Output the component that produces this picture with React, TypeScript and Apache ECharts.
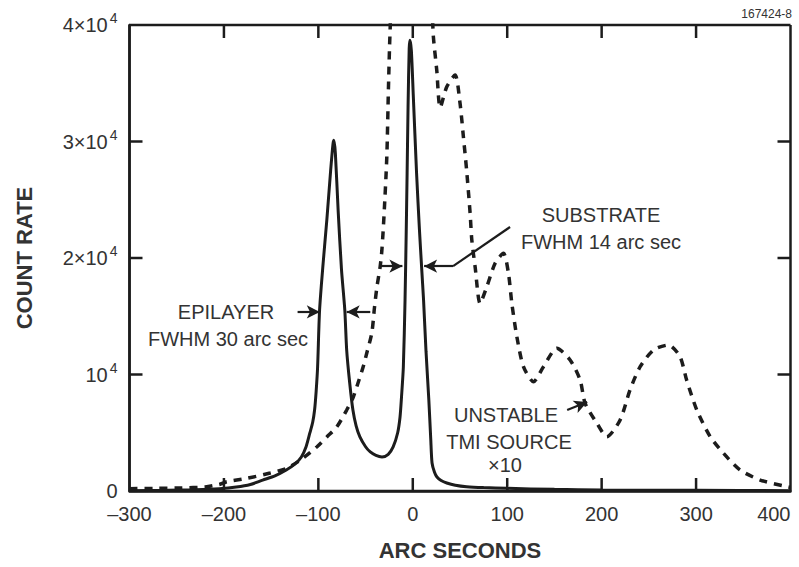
import React, { useEffect, useRef } from "react";
import * as echarts from "echarts";

// Solid curve: epilayer + substrate rocking curve (count rate vs arc seconds)
const crystalCurve: [number, number][] = [
  [-300, 30], [-260, 60], [-230, 110], [-205, 200], [-187, 340], [-172, 560],
  [-159, 940], [-146, 1300], [-134, 1800], [-125, 2300], [-118, 2920], [-113, 3800],
  [-109, 4980], [-106, 5900], [-104, 6950], [-102.3, 8600], [-100.8, 10640],
  [-98.7, 15540], [-95, 19500], [-91, 23300], [-87, 27500], [-84.5, 29800],
  [-83.5, 30100], [-82, 29000], [-79, 24000], [-75.5, 19000], [-72, 15540],
  [-70, 12100], [-66.8, 9270], [-63.4, 6950], [-60, 5600], [-56, 4640], [-50, 3800],
  [-45, 3350], [-39, 3050], [-32.6, 2920], [-26, 3150], [-20.8, 3780], [-16, 5000],
  [-13.5, 6350], [-12, 8000], [-10, 10640], [-8.2, 16400], [-7, 22000], [-6, 27300],
  [-5, 33000], [-3.8, 38000], [-3, 38700], [-1.5, 37800], [0.5, 34000], [4, 27300],
  [7, 22500], [9.5, 19000], [11.4, 16400], [14, 12000], [17, 7800], [19, 4500],
  [20.4, 2400], [23, 1600], [25.6, 1200], [30, 900], [36, 690], [45, 500], [57, 370],
  [75, 290], [100, 230], [150, 140], [200, 90], [300, 60], [400, 30],
];

// Dashed curve: unstable TMI source (x10)
const tmiSourceCurve: [number, number][] = [
  [-300, 200], [-270, 230], [-245, 260], [-220, 350], [-205, 560], [-197, 790],
  [-176, 1080], [-151, 1540], [-133.5, 1950], [-119, 2660], [-101.7, 3780],
  [-91, 4640], [-80.5, 5500], [-70, 6950], [-63, 8070], [-58, 9270], [-52.6, 10640],
  [-48.7, 11850], [-43.4, 13560], [-40.5, 15800], [-38, 17500], [-34.6, 19230],
  [-32.8, 20600], [-30.5, 23600], [-27.5, 28700], [-25.8, 34500], [-24, 39570],
  [-21, 44000], [0, 48000], [18, 44000], [21.8, 39000], [25.4, 36100], [29, 32900],
  [36, 34700], [44.8, 35700], [50, 33300], [53.6, 30400], [57, 27550], [60.7, 23860],
  [62.5, 21550], [66, 19250], [71.3, 16100], [78.4, 17540], [87.2, 19550], [96, 20400],
  [101.3, 18690], [104.9, 16100], [110.2, 13250], [117.2, 10670], [127.8, 9380],
  [138.4, 10670], [152.5, 12250], [166.6, 11250], [177.2, 9530], [182.5, 7530],
  [195, 5810], [205.5, 4660], [219.6, 6100], [230, 8670], [240.8, 10670], [254.9, 12100],
  [270.8, 12530], [283, 11530], [290, 9530], [300.8, 6950], [315, 4660], [329, 3240],
  [346.7, 1800], [368, 940], [396, 370], [400, 300],
];

const X_MIN = -300;
const X_MAX = 400;
const Y_MIN = 0;
const Y_MAX = 40000;
const xTicks = [-300, -200, -100, 0, 100, 200, 300, 400];
const yTicks = [0, 10000, 20000, 30000, 40000];
const xTickLabels: Record<number, string> = {
  [-300]: "–300", [-200]: "–200", [-100]: "–100", 0: "0",
  100: "100", 200: "200", 300: "300", 400: "400",
};
const yTickBase = ["0", "10", "2×10", "3×10", "4×10"];
const yTickExp = ["", "4", "4", "4", "4"];

// Annotation arrows, in data coordinates: [from, to]
const epilayerArrows: [number, number][][] = [
  [[-122, 15370], [-98.5, 15370]],
  [[-45, 15370], [-70, 15370]],
];
const substrateArrows: [number, number][][] = [
  [[-34.6, 19300], [-11, 19300]],
  [[42.7, 19300], [12, 19300]],
];
const substrateLeader: [number, number][] = [[103, 22660], [42.7, 19300]];
const tmiArrow: [number, number][] = [[163.5, 6950], [184.7, 7640]];

const FONT = "'Liberation Sans', Arial, Helvetica, sans-serif";
const INK = "#1c1c1c";
const TXT = "#333333";
const TICK_PX = 13;

export default function App() {
  const ref = useRef<HTMLDivElement>(null);

  useEffect(() => {
    if (!ref.current) return;
    const chart = echarts.init(ref.current, null, { renderer: "svg" });

    const arrowItem = (seg: [number, number][]) => [
      { coord: seg[0], symbol: "none" },
      { coord: seg[1], symbol: "arrow" },
    ];

    const markLineData: any[] = [
      ...epilayerArrows.map(arrowItem),
      ...substrateArrows.map(arrowItem),
      [
        { coord: substrateLeader[0], symbol: "none" },
        { coord: substrateLeader[1], symbol: "none" },
      ],
      arrowItem(tmiArrow),
    ];

    const text = (t: string, x: number, y: number, size = 20, align = "center") => ({
      type: "text",
      x,
      y,
      z: 50,
      style: {
        text: t,
        fill: TXT,
        font: `${size}px ${FONT}`,
        textAlign: align,
        textVerticalAlign: "middle",
      },
    });

    // Frame with inward ticks, drawn through the axes' scales in a custom series.
    const frameRender = (_params: any, api: any) => {
      const p = (x: number, y: number) => api.coord([x, y]);
      const [left, bottom] = p(X_MIN, Y_MIN);
      const [right, top] = p(X_MAX, Y_MAX);
      const style = { stroke: INK, lineWidth: 2.5, fill: "none" };
      const line = (x1: number, y1: number, x2: number, y2: number) => ({
        type: "line",
        shape: { x1, y1, x2, y2 },
        style,
      });
      const children: any[] = [
        line(left, top, right, top),
        line(right, top, right, bottom),
        line(left, top, left, bottom),
        line(left, bottom, right, bottom),
      ];
      xTicks.slice(1, -1).forEach((v) => {
        const x = p(v, Y_MIN)[0];
        children.push(line(x, bottom, x, bottom - TICK_PX));
        children.push(line(x, top, x, top + TICK_PX));
      });
      yTicks.slice(1, -1).forEach((v) => {
        const y = p(X_MIN, v)[1];
        children.push(line(left, y, left + TICK_PX, y));
        children.push(line(right, y, right - TICK_PX, y));
      });
      return { type: "group", children };
    };

    chart.setOption({
      animation: false,
      backgroundColor: "#ffffff",
      grid: {
        left: 129.5,
        right: 8.5,
        top: 25,
        bottom: 76,
        containLabel: false,
        outerBoundsMode: "none",
      },
      xAxis: {
        type: "value",
        position: "bottom",
        min: X_MIN,
        max: X_MAX,
        interval: 100,
        axisLine: { show: true, onZero: false, lineStyle: { color: INK, width: 2.5 } },
        axisTick: { show: false },
        splitLine: { show: false },
        axisLabel: {
          margin: 13,
          color: TXT,
          fontFamily: FONT,
          fontSize: 20,
          alignMaxLabel: "right",
          formatter: (v: number) => xTickLabels[v] ?? String(v),
        },
        name: "ARC SECONDS",
        nameLocation: "middle",
        nameGap: 48,
        nameTextStyle: { color: TXT, fontFamily: FONT, fontSize: 22, fontWeight: "bold" },
      },
      yAxis: {
        type: "value",
        position: "left",
        min: Y_MIN,
        max: Y_MAX,
        interval: 10000,
        axisLine: { show: true, onZero: false, lineStyle: { color: INK, width: 2.5 } },
        axisTick: { show: false },
        splitLine: { show: false },
        axisLabel: {
          margin: 12,
          color: TXT,
          fontFamily: FONT,
          formatter: (v: number) => {
            const i = Math.round(v / 10000);
            if (!yTickExp[i]) return `{b|${yTickBase[i]}}`;
            return `{b|${yTickBase[i]}}{s|${yTickExp[i]}}`;
          },
          rich: {
            b: { fontSize: 20, fontFamily: FONT, color: TXT },
            s: { fontSize: 14, fontFamily: FONT, color: TXT, padding: [0, 0, 14, 2] },
          },
        },
        name: "COUNT RATE",
        nameLocation: "middle",
        nameGap: 94,
        nameRotate: 90,
        nameTextStyle: { color: TXT, fontFamily: FONT, fontSize: 22, fontWeight: "bold" },
      },
      series: [
        {
          type: "custom",
          name: "frame",
          data: [[X_MIN, Y_MIN]],
          renderItem: frameRender,
          clip: false,
          silent: true,
          z: 10,
        },
        {
          type: "line",
          name: "crystal",
          data: crystalCurve,
          showSymbol: false,
          smooth: 0.25,
          clip: true,
          lineStyle: { color: INK, width: 3 },
          z: 3,
          markLine: {
            silent: true,
            symbolSize: [10, 13],
            label: { show: false },
            lineStyle: { color: INK, width: 2.2, type: "solid" },
            data: markLineData,
          },
        },
        {
          type: "line",
          name: "tmi",
          data: tmiSourceCurve,
          showSymbol: false,
          smooth: 0.25,
          clip: true,
          lineStyle: { color: INK, width: 3.5, type: [8, 7] },
          z: 2,
        },
      ],
      graphic: [
        text("EPILAYER", 226, 312),
        text("FWHM 30 arc sec", 228, 339),
        text("SUBSTRATE", 601, 215),
        text("FWHM 14 arc sec", 601, 242),
        text("UNSTABLE", 506, 415),
        text("TMI SOURCE", 509, 442),
        text("×10", 505, 465),
        text("167424-8", 792, 14, 12, "right"),
      ],
    });

    return () => chart.dispose();
  }, []);

  return (
    <div
      ref={ref}
      style={{ position: "absolute", left: 0, top: 0, width: 799, height: 567, background: "#fff" }}
    />
  );
}
